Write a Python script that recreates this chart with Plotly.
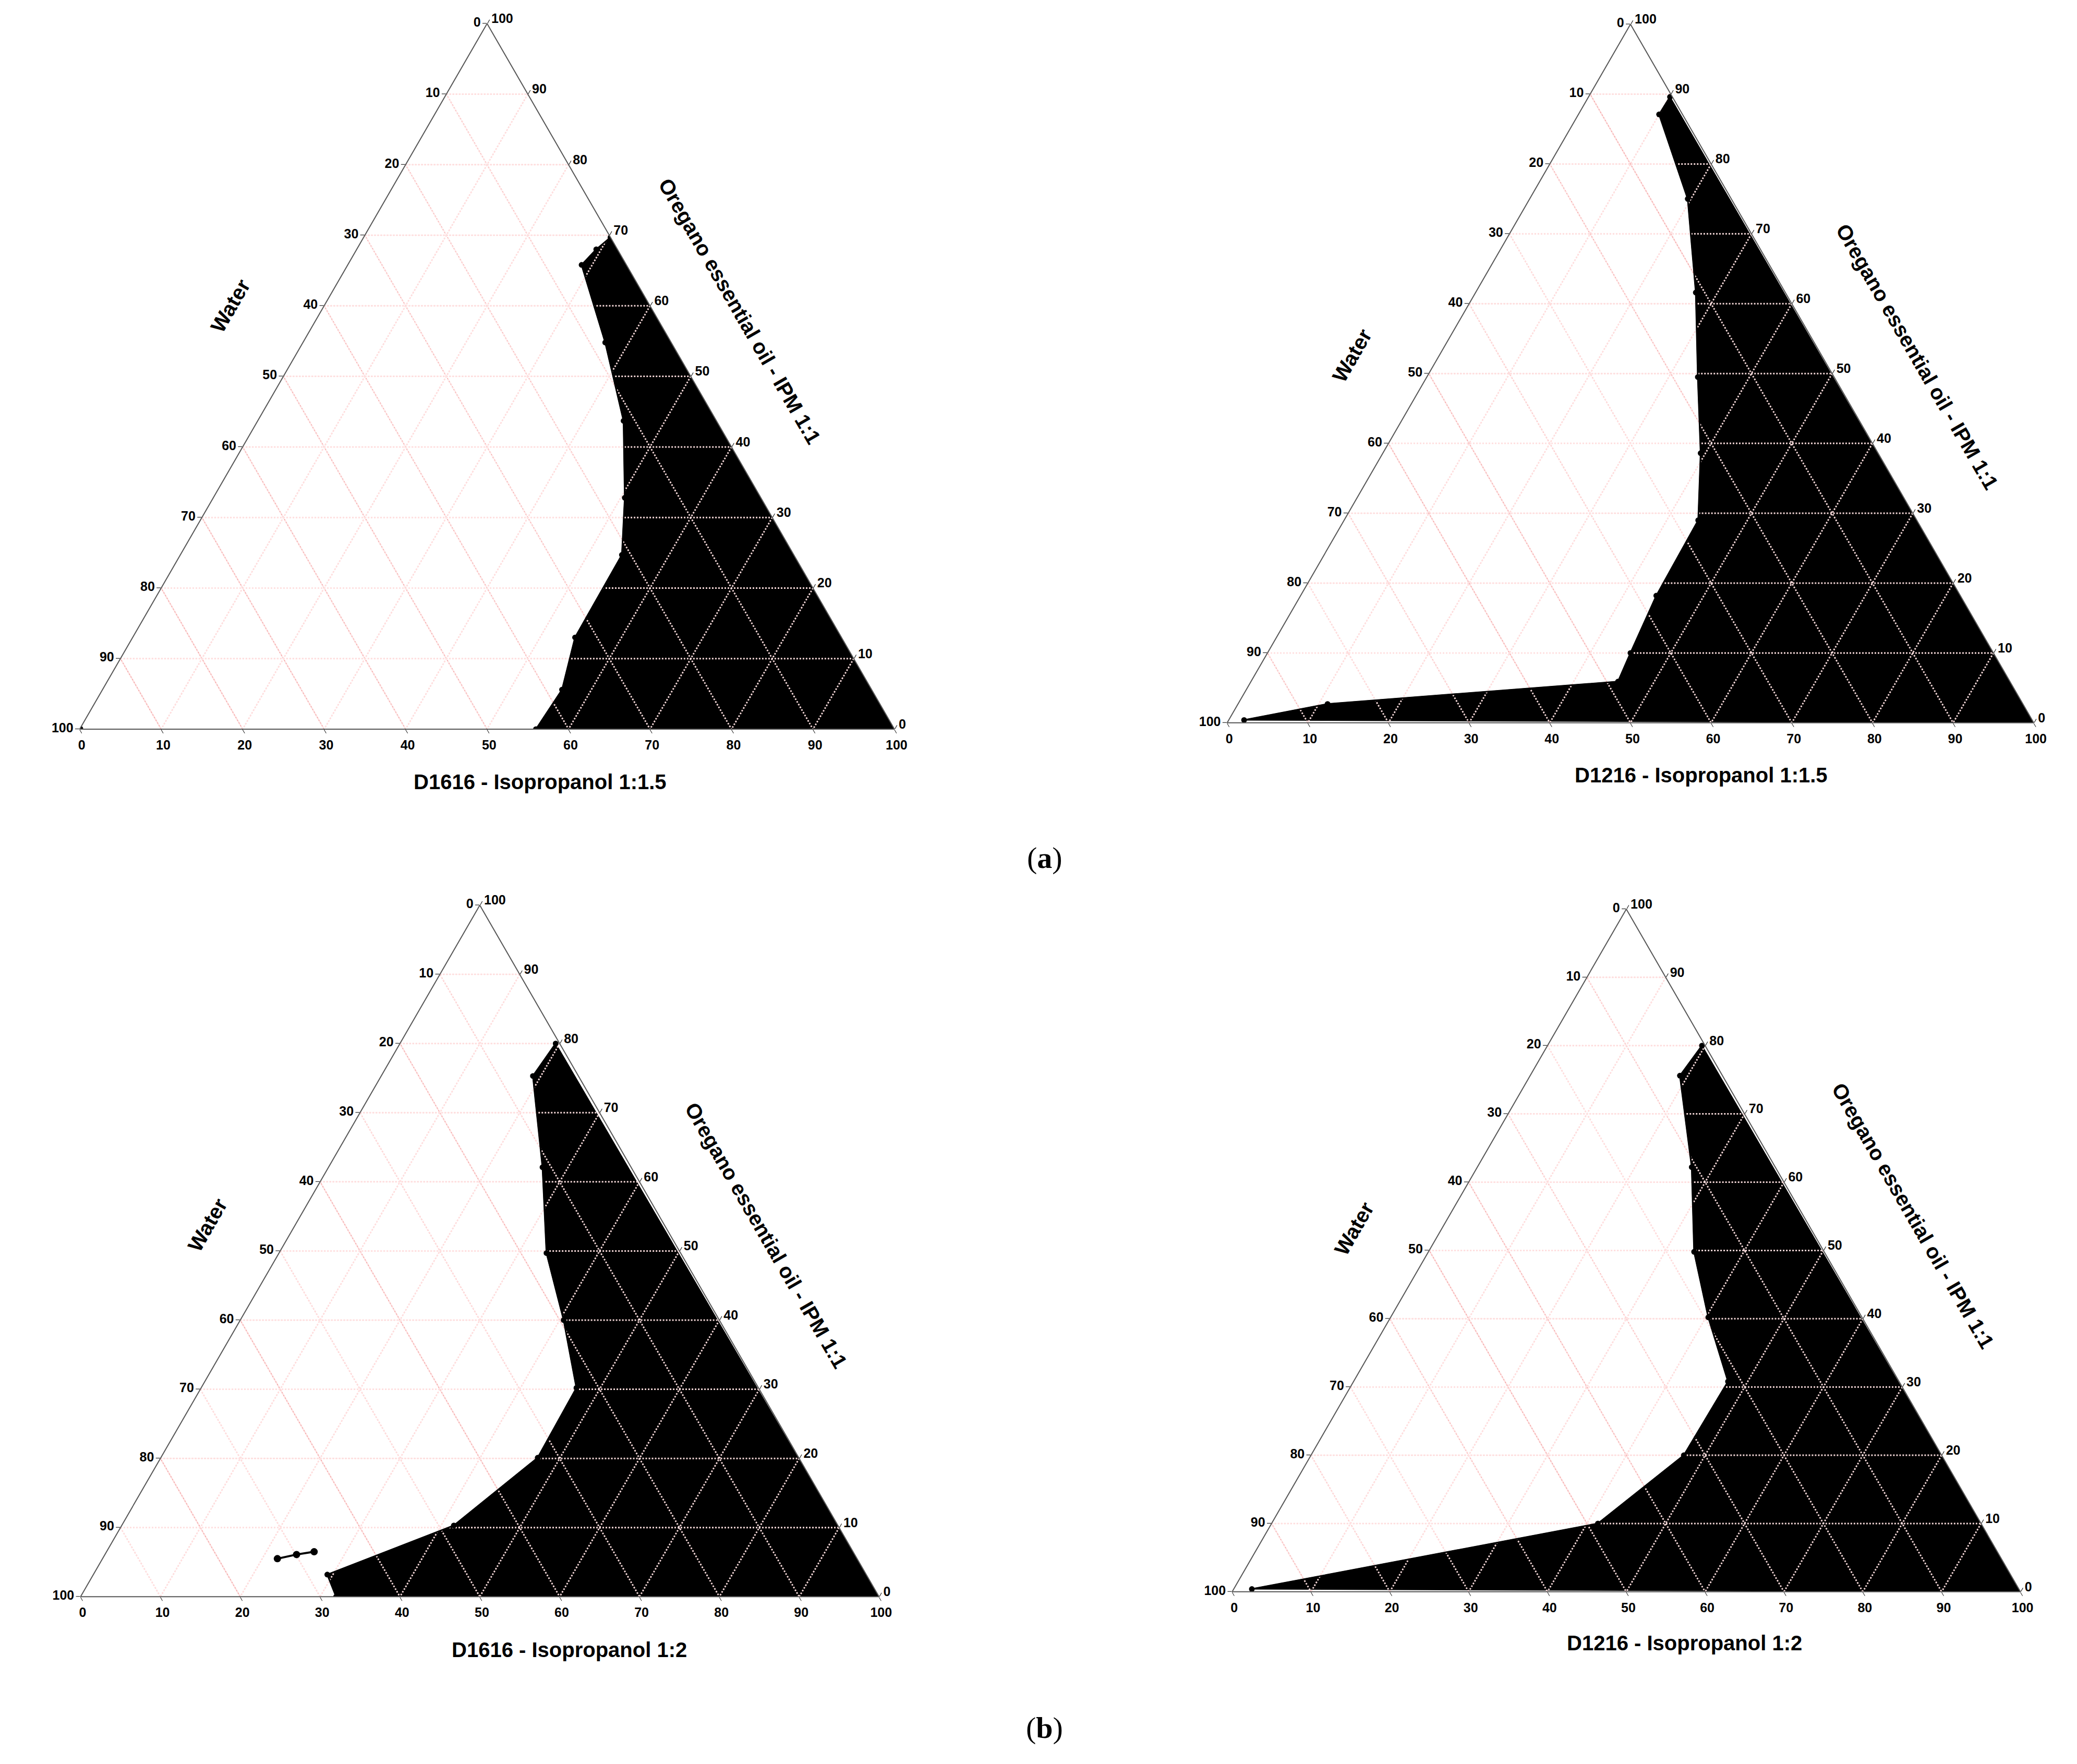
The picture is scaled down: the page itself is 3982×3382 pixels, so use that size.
import plotly.graph_objects as go

# Boundary points: (surfactant-mix %, oil %), water = 100 - S - O
p1_S = [30.3, 29.4, 28.7, 37.1, 44.9, 50.5, 54.2, 54.3, 56.4, 56.0]
p1_O = [69.7, 68.0, 65.8, 54.8, 43.7, 32.8, 24.7, 13.0, 5.6, 0.0]
p1_extra_S = [0.0]
p1_extra_O = [0.0]

p2_S = [10.1, 10.0, 19.6, 27.3, 33.6, 39.4, 43.9, 44.1, 45.0, 45.5, 11.1, 1.9]
p2_O = [89.6, 87.1, 75.0, 61.6, 49.5, 38.6, 29.0, 18.2, 10.0, 5.9, 2.7, 0.4]

p3_S = [19.5, 19.0, 26.8, 33.5, 40.5, 47.0, 47.2, 41.6, 29.3, 32.0]
p3_O = [80.0, 75.3, 62.1, 49.7, 40.0, 30.2, 20.1, 10.3, 3.2, 0.0]
p3_extra_S = [21.9, 24.0, 26.0]
p3_extra_O = [5.5, 6.1, 6.5]

p4_S = [19.6, 19.0, 27.2, 33.7, 40.3, 47.5, 47.3, 41.4, 2.3]
p4_O = [80.0, 75.6, 62.2, 49.8, 40.2, 30.8, 20.0, 10.0, 0.4]

ticks = list(range(0, 101, 10))
labels = [str(100 - v) for v in ticks]
grid_vals = list(range(10, 100, 10))

titles = ["D1616 - Isopropanol 1:1.5", "D1216 - Isopropanol 1:1.5",
          "D1616 - Isopropanol 1:2", "D1216 - Isopropanol 1:2"]
oil_title = "Oregano essential oil - IPM 1:1"
water_title = "Water"

W, H = 3982, 3382
fig = go.Figure()

panels = [(p1_S, p1_O, p1_extra_S, p1_extra_O, False),
          (p2_S, p2_O, [], [], False),
          (p3_S, p3_O, p3_extra_S, p3_extra_O, True),
          (p4_S, p4_O, [], [], False)]

gridline = dict(color="rgba(255,225,225,0.95)", width=3, dash="dot")

for i, (S, O, eS, eO, eline) in enumerate(panels):
    sub = "ternary" if i == 0 else f"ternary{i+1}"
    Wt = [100 - s - o for s, o in zip(S, O)]
    fa = O + [0, O[0]]
    fc = S + [100, S[0]]
    fb = [100 - a - c for a, c in zip(fa, fc)]
    fig.add_trace(go.Scatterternary(a=fa, b=fb, c=fc, mode="lines", fill="toself",
                                    fillcolor="black", line=dict(color="black", width=2),
                                    subplot=sub, showlegend=False, hoverinfo="skip"))
    for v in grid_vals:
        r = 100 - v
        for a, b, c in [([v, v], [r, 0], [0, r]), ([r, 0], [v, v], [0, r]), ([r, 0], [0, r], [v, v])]:
            fig.add_trace(go.Scatterternary(a=a, b=b, c=c, mode="lines", line=gridline,
                                            subplot=sub, showlegend=False, hoverinfo="skip"))
    fig.add_trace(go.Scatterternary(a=O, b=Wt, c=S, mode="lines+markers",
                                    line=dict(color="black", width=3),
                                    marker=dict(color="black", size=11),
                                    subplot=sub, showlegend=False))
    if eS:
        eW = [100 - s - o for s, o in zip(eS, eO)]
        fig.add_trace(go.Scatterternary(a=eO, b=eW, c=eS,
                                        mode="lines+markers" if eline else "markers",
                                        line=dict(color="black", width=4),
                                        marker=dict(color="black", size=14),
                                        subplot=sub, showlegend=False))

domains = [
    dict(x=[0.022, 0.443], y=[0.589, 0.989]),
    dict(x=[0.573, 0.993], y=[0.5926, 0.9886]),
    dict(x=[0.019, 0.439], y=[0.0972, 0.4892]),
    dict(x=[0.571, 0.991], y=[0.100, 0.487]),
]

def ax():
    return dict(tickvals=ticks, ticktext=labels, ticks="outside", ticklen=8,
                tickcolor="black", linecolor="#555555", linewidth=2,
                gridcolor="rgba(240,140,140,0.75)", griddash="dot", gridwidth=2,
                tickfont=dict(family="Liberation Sans", size=25, color="black", weight="bold"),
                title=dict(text=""), min=0)

layout = dict(width=W, height=H, paper_bgcolor="white",
              margin=dict(l=0, r=0, t=0, b=0),
              font=dict(family="Liberation Sans", color="black"))
for i, d in enumerate(domains):
    key = "ternary" if i == 0 else f"ternary{i+1}"
    layout[key] = dict(domain=d, bgcolor="white", sum=100,
                       aaxis=ax(), baxis=ax(), caxis=ax())
fig.update_layout(**layout)

ann = [
    (0.258, 0.559, titles[0], 0), (0.109, 0.829, water_title, -60), (0.354, 0.826, oil_title, 60),
    (0.817, 0.563, titles[1], 0), (0.649, 0.801, water_title, -60), (0.921, 0.800, oil_title, 60),
    (0.272, 0.067, titles[2], 0), (0.098, 0.308, water_title, -60), (0.367, 0.302, oil_title, 60),
    (0.809, 0.071, titles[3], 0), (0.650, 0.306, water_title, -60), (0.919, 0.313, oil_title, 60),
]
for x, y, t, ang in ann:
    fig.add_annotation(x=x, y=y, xref="paper", yref="paper", text=f"<b>{t}</b>",
                       textangle=ang, showarrow=False, xanchor="center", yanchor="middle",
                       font=dict(family="Liberation Sans", size=40, color="black"))
for x, y, t in [(0.501, 0.516, "(<b>a</b>)"), (0.501, 0.023, "(<b>b</b>)")]:
    fig.add_annotation(x=x, y=y, xref="paper", yref="paper", text=t, showarrow=False,
                       xanchor="center", yanchor="middle",
                       font=dict(family="Liberation Serif", size=58, color="black"))

fig.write_html("out.html")
